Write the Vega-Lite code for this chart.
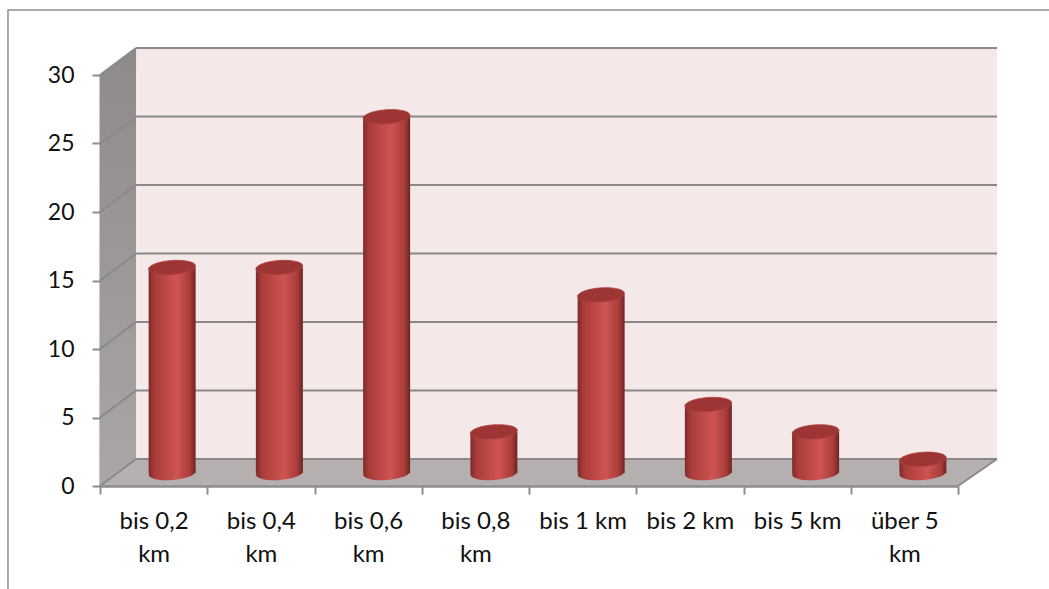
{
"$schema":"https://vega.github.io/schema/vega-lite/v6.json",
"width":858,"height":411,
"autosize":"none",
"padding":{"left":100,"top":75,"right":91,"bottom":103},
"background":"white",
"config":{"view":{"stroke":null},
 "axisY":{"tickCount":6,"grid":false,"zindex":1,"domainColor":"#8c8c8c","domainWidth":2,"tickColor":"#8c8c8c","tickWidth":2,"tickSize":8,
  "labelFont":"Lato","labelFontSize":23,"labelColor":"#111111","labelPadding":18}},
"datasets":{
"values":[
{"cat":"bis 0,2 km","n":15},{"cat":"bis 0,4 km","n":15},{"cat":"bis 0,6 km","n":26},{"cat":"bis 0,8 km","n":3},
{"cat":"bis 1 km","n":13},{"cat":"bis 2 km","n":5},{"cat":"bis 5 km","n":3},{"cat":"über 5 km","n":1}],
"ticks":[{"t":0},{"t":5},{"t":10},{"t":15},{"t":20},{"t":25},{"t":30}],
"floor":[{"d":0,"a":0,"b":0},{"d":0.336,"a":1.97,"b":0},{"d":8,"a":1.97,"b":0},{"d":8.364,"a":1.97,"b":1.97}],
"side":[{"d":0,"a":30,"b":0},{"d":0.336,"a":31.97,"b":1.97}],
"diag":[
{"t":"0","d":0,"v":0},{"t":"0","d":0.336,"v":1.97},
{"t":"5","d":0,"v":5},{"t":"5","d":0.336,"v":6.97},
{"t":"10","d":0,"v":10},{"t":"10","d":0.336,"v":11.97},
{"t":"15","d":0,"v":15},{"t":"15","d":0.336,"v":16.97},
{"t":"20","d":0,"v":20},{"t":"20","d":0.336,"v":21.97},
{"t":"25","d":0,"v":25},{"t":"25","d":0.336,"v":26.97},
{"t":"30","d":0,"v":30},{"t":"30","d":0.336,"v":31.97},
{"t":"r","d":8,"v":0},{"t":"r","d":8.364,"v":1.97}]
},
"resolve":{"scale":{"x":"independent"},"axis":{"x":"independent"}},
"layer":[
{"data":{"values":[{"part":"frame"}]},
 "mark":{"type":"rect","fill":null,"stroke":"#8f8f8f","strokeWidth":1.5},
 "encoding":{
  "x":{"datum":-0.858,"type":"quantitative","scale":{"domain":[0,8],"nice":false,"zero":false},"axis":null},
  "x2":{"datum":10},
  "y":{"datum":34.745,"type":"quantitative","title":null,"scale":{"domain":[0,30],"nice":false}},
  "y2":{"datum":-10}}},
{"data":{"values":[{"top":31.97,"bottom":1.97}]},
 "mark":{"type":"rect","fill":"#f4e8e8"},
 "encoding":{
  "x":{"datum":0.336,"type":"quantitative","scale":{"domain":[0,8],"nice":false,"zero":false},"axis":null},
  "x2":{"datum":8.364},
  "y":{"field":"top","type":"quantitative","title":null,"scale":{"domain":[0,30],"nice":false}},"y2":{"field":"bottom"}}},
{"data":{"name":"floor"},
 "mark":{"type":"area","fill":"#b6afaf","opacity":1,"line":false},
 "encoding":{
  "x":{"field":"d","type":"quantitative","scale":{"domain":[0,8],"nice":false,"zero":false},"axis":null},
  "y":{"field":"a","type":"quantitative","title":null,"scale":{"domain":[0,30],"nice":false}},
  "y2":{"field":"b"}}},
{"data":{"name":"side"},
 "mark":{"type":"area","opacity":1,"fill":{"gradient":"linear","x1":0,"x2":0,"y1":0,"y2":1,"stops":[{"offset":0,"color":"#8f8a8a"},{"offset":1,"color":"#aaa6a6"}]}},
 "encoding":{
  "x":{"field":"d","type":"quantitative","scale":{"domain":[0,8],"nice":false,"zero":false},"axis":null},
  "y":{"field":"a","type":"quantitative","title":null,"scale":{"domain":[0,30],"nice":false}},
  "y2":{"field":"b"}}},
{"data":{"name":"ticks"},
 "mark":{"type":"rule","color":"#8c8888","strokeWidth":2,"yOffset":-27},
 "encoding":{
  "x":{"datum":0.336,"type":"quantitative","scale":{"domain":[0,8],"nice":false,"zero":false},"axis":null},
  "x2":{"datum":8.364},
  "y":{"field":"t","type":"quantitative","title":null,"scale":{"domain":[0,30],"nice":false}}}},
{"data":{"name":"diag"},
 "mark":{"type":"line","color":"#8c8888","strokeWidth":2},
 "encoding":{
  "x":{"field":"d","type":"quantitative","scale":{"domain":[0,8],"nice":false,"zero":false},"axis":null},
  "y":{"field":"v","type":"quantitative","title":null,"scale":{"domain":[0,30],"nice":false}},
  "detail":{"field":"t"}}},
{"data":{"name":"values"},
 "mark":{"type":"point","filled":true,"opacity":1,"xOffset":18.5,"yOffset":-13,
  "shape":"M-0.9976,0.07A1,0.3,-4,1,1,0.9976,-0.07A1,0.3,-4,1,1,-0.9976,0.07Z",
  "size":2209,
  "fill":{"gradient":"linear","x1":0,"x2":1,"y1":0,"y2":0,"stops":[{"offset":0,"color":"#7c2a2a"},{"offset":0.12,"color":"#a83c3a"},{"offset":0.6,"color":"#cf5451"},{"offset":0.88,"color":"#a83c3a"},{"offset":1,"color":"#6e2323"}]}},
 "encoding":{
  "x":{"field":"cat","type":"nominal","sort":null,"scale":{"paddingInner":0,"paddingOuter":0},"axis":null},
  "y":{"datum":0,"type":"quantitative","title":null,"scale":{"domain":[0,30],"nice":false}}}},
{"data":{"name":"values"},
 "mark":{"type":"bar","size":47,"xOffset":18.5,"yOffset":-13,"y2Offset":-13,
  "fill":{"gradient":"linear","x1":0,"x2":1,"y1":0,"y2":0,"stops":[{"offset":0,"color":"#7c2a2a"},{"offset":0.12,"color":"#a83c3a"},{"offset":0.6,"color":"#cf5451"},{"offset":0.88,"color":"#a83c3a"},{"offset":1,"color":"#6e2323"}]}},
 "encoding":{
  "x":{"field":"cat","type":"nominal","sort":null,"title":null,
   "scale":{"paddingInner":0,"paddingOuter":0},
   "axis":{"tickBand":"extent","labelAngle":0,"zindex":1,"domainColor":"#8c8c8c","domainWidth":2.5,"tickColor":"#8c8c8c","tickWidth":2,"tickSize":8,
    "labelFont":"Lato","labelFontSize":24,"labelColor":"#111111","labelPadding":15,"labelLineHeight":33,"labelLimit":200,
    "labelExpr":"length(datum.label)>8 ? [slice(datum.label,0,-3),'km'] : datum.label"}},
  "y":{"field":"n","type":"quantitative","title":null,
   "scale":{"domain":[0,30],"nice":false}}}},
{"data":{"name":"values"},
 "mark":{"type":"point","filled":true,"opacity":1,"xOffset":18.5,"yOffset":-13,
  "shape":"M-0.9976,0.07A1,0.3,-4,1,1,0.9976,-0.07A1,0.3,-4,1,1,-0.9976,0.07Z",
  "size":2209,"fill":"#9c3533","stroke":"#b24341","strokeWidth":0.8},
 "encoding":{
  "x":{"field":"cat","type":"nominal","sort":null,"scale":{"paddingInner":0,"paddingOuter":0},"axis":null},
  "y":{"field":"n","type":"quantitative","title":null,"scale":{"domain":[0,30],"nice":false}}}}
]
}
